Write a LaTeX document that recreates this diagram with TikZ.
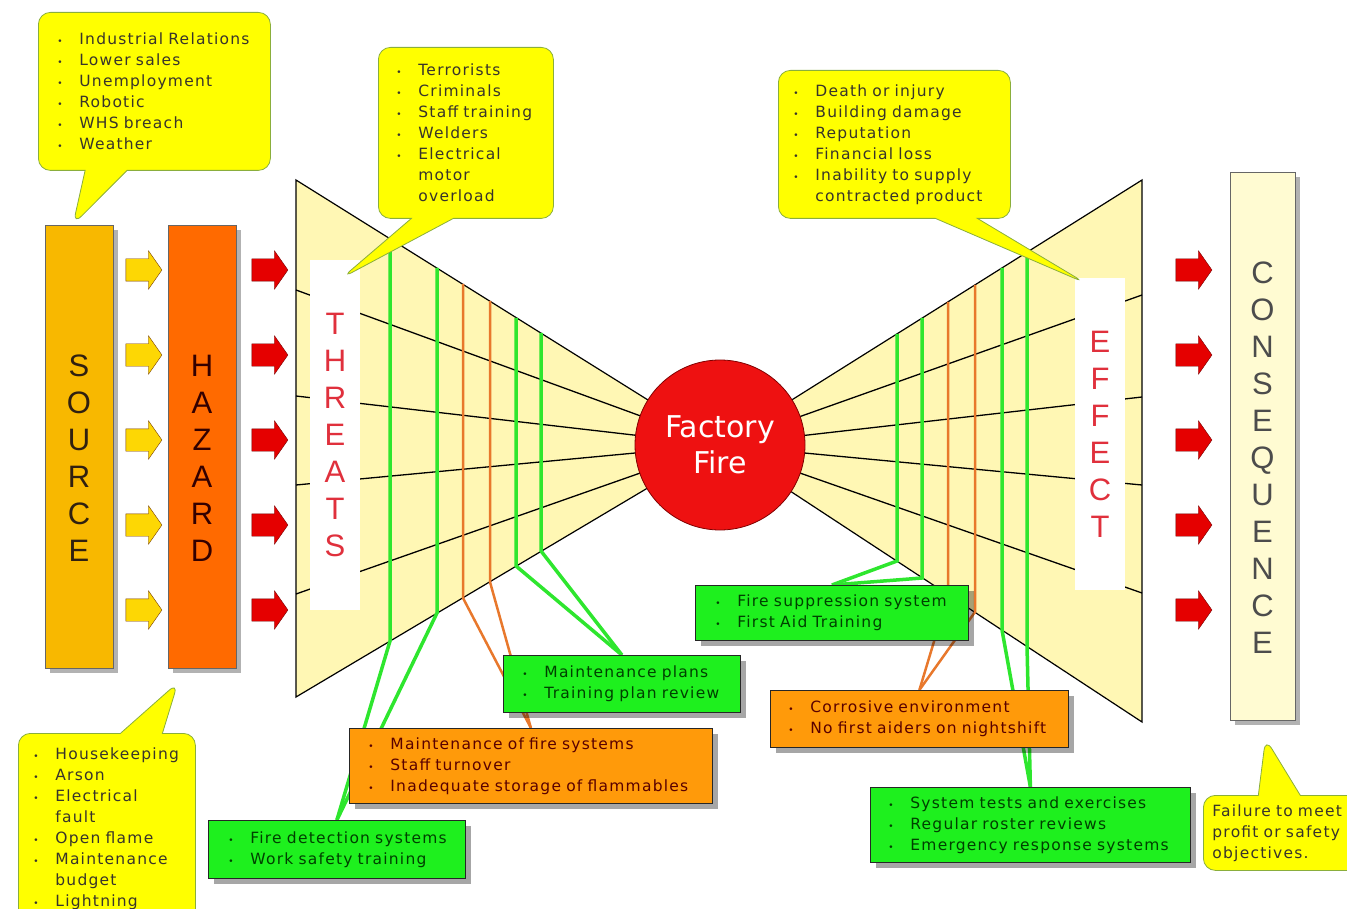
\documentclass[tikz,border=0pt]{standalone}
\usepackage{fontspec}
\setmainfont{DejaVu Sans}
\newfontfamily\notefont[LetterSpace=8]{DejaVu Sans}
\newfontfamily\bigfont{Liberation Sans}
\usetikzlibrary{shapes.arrows, shapes.callouts, shadows}
\pgfdeclarelayer{background}
\pgfsetlayers{background,main}

\definecolor{noteyellow}{HTML}{FFFF00}
\definecolor{noteedge}{HTML}{8AAE3C}
\definecolor{bargreen}{HTML}{2EE62E}
\definecolor{boxgreen}{HTML}{1EF01E}
\definecolor{barorange}{HTML}{E8782C}
\definecolor{boxorange}{HTML}{FF9A0A}
\definecolor{wingfill}{HTML}{FFF7B4}
\definecolor{threatred}{HTML}{E0303C}
\definecolor{firered}{HTML}{EE1111}
\definecolor{sourcefill}{HTML}{F8B800}
\definecolor{hazardfill}{HTML}{FF6A00}
\definecolor{consfill}{HTML}{FFFBD2}

\newcommand{\bul}{\makebox[22pt][l]{\fontsize{9}{9}\selectfont\textbullet}}
\newcommand{\cont}{\hspace*{22pt}}

\tikzset{
  smalltext/.style={font=\notefont\fontsize{15.5}{21}\selectfont},
  bubble/.style={rectangle callout, draw=noteedge, fill=noteyellow, thick, rounded corners=12pt,
    callout pointer width=42pt, smalltext, text=black!80!olive, align=left, anchor=north west},
  ctrlbox/.style={draw=black!85, thick, anchor=north west, align=left, smalltext,
    drop shadow={shadow xshift=6pt, shadow yshift=-6pt, opacity=0.35, fill=black}},
  gbox/.style={ctrlbox, fill=boxgreen, text=green!25!black},
  obox/.style={ctrlbox, fill=boxorange, text=red!35!black},
  gbar/.style={line width=3.5pt, bargreen},
  obar/.style={line width=2.5pt, barorange},
  wing/.style={fill=wingfill, draw=black, line width=1.2pt},
  fan/.style={draw=black, line width=1.3pt},
  band/.style={fill=white, minimum width=50pt, text=threatred, align=center,
    font=\bigfont\fontsize{31}{37}\selectfont},
  bigbox/.style={draw=black!60, thick, minimum width=68pt, minimum height=443pt,
    drop shadow={shadow xshift=5pt, shadow yshift=-5pt, opacity=0.3, fill=black}},
  bigletters/.style={align=center, font=\bigfont\fontsize{31}{37}\selectfont},
  yarrow/.style={single arrow, draw=black!55!orange, fill=yellow!75!orange, minimum height=36pt,
    minimum width=38pt, single arrow head extend=8pt, single arrow tip angle=110,
    inner xsep=0pt, inner ysep=11pt},
  rarrow/.style={yarrow, draw=red!45!black, fill=red!90!black},
}

\begin{document}
\begin{tikzpicture}[x=1pt, y=-1pt]
  \useasboundingbox (0,0) rectangle (1347,909);
  \clip (0,0) rectangle (1347,909);
  \coordinate (hub) at (720,445);

  % Source, hazard and consequence columns
  \node[bigbox, fill=sourcefill] (src) at (79,446.5) {};
  \node[bigletters, text=black!75!brown] at (79,458) {S\\O\\U\\R\\C\\E};
  \node[bigbox, fill=hazardfill] (haz) at (202,446.5) {};
  \node[bigletters, text=black!80!red] at (202,458) {H\\A\\Z\\A\\R\\D};
  \node[bigbox, fill=consfill, minimum width=65pt, minimum height=548pt] (cons) at (1262.5,446) {};
  \node[bigletters, text=black!70] at (1262.5,458) {C\\O\\N\\S\\E\\Q\\U\\E\\N\\C\\E};

  % Block arrows
  \foreach \y [count=\i] in {270,355,440,525,610} {
    \node[yarrow] (ya\i) at (140,\y) {};
    \node[rarrow] (ra\i) at (266,\y) {};
    \node[rarrow] (rb\i) at (1190,\y) {};
  }

  % Top event
  \node[circle, fill=firered, draw=red!50!black, thick, minimum size=170pt, text=white,
    font=\fontsize{30}{36}\selectfont, align=center] (fire) at (hub) {Factory\\Fire};

  % Controls and escalation factors
  \node[gbox, text width=217pt, inner xsep=20pt, minimum height=58pt] (detect) at (208,820)
    {\bul Fire detection systems\\\bul Work safety training};
  \node[obox, text width=325pt, inner xsep=19pt, minimum height=75pt] (maintsys) at (349,728)
    {\bul Maintenance of fire systems\\\bul Staff turnover\\\bul Inadequate storage of flammables};
  \node[gbox, text width=199pt, inner xsep=19pt, minimum height=57pt] (maintplan) at (503,655)
    {\bul Maintenance plans\\\bul Training plan review};
  \node[gbox, text width=233pt, inner xsep=20pt, minimum height=55pt] (suppress) at (695,585)
    {\bul Fire suppression system\\\bul First Aid Training};
  \node[obox, text width=262pt, inner xsep=18pt, minimum height=57pt] (corrode) at (770,690)
    {\bul Corrosive environment\\\bul No first aiders on nightshift};
  \node[gbox, text width=284pt, inner xsep=18pt, minimum height=75pt] (systest) at (870,787)
    {\bul System tests and exercises\\\bul Regular roster reviews\\\bul Emergency response systems};

  \begin{pgfonlayer}{background}
    % Wings
    \draw[wing] (296,180) -- (hub) -- (296,697) -- cycle;
    \draw[wing] (1142,180) -- (hub) -- (1142,722) -- cycle;
    \foreach \y in {290,396,485,594} \draw[fan] (296,\y) -- (hub);
    \foreach \y in {295,397,485,593} \draw[fan] (1142,\y) -- (hub);
    \node[band, minimum height=350pt] (threats) at (335,435) {T\\H\\R\\E\\A\\T\\S};
    \node[band, minimum height=312pt] (effects) at (1100,434) {E\\F\\F\\E\\C\\T};

    % Barriers (left)
    \draw[gbar] (390,239) -- (390,641) -- (detect.north);
    \draw[gbar] (437,268) -- (437,613) -- (detect.north);
    \draw[obar] (463,284) -- (463,598) -- (maintsys.north);
    \draw[obar] (490,301) -- (490,582) -- (maintsys.north);
    \draw[gbar] (516,318) -- (516,566) -- (maintplan.north);
    \draw[gbar] (541,333) -- (541,551) -- (maintplan.north);

    % Barriers (right)
    \draw[gbar] (897,334) -- (897,561) -- (suppress.north);
    \draw[gbar] (922,318) -- (922,578) -- (suppress.north);
    \draw[obar] (948,302) -- (948,595) -- (corrode.north);
    \draw[obar] (975,285) -- (975,612) -- (corrode.north);
    \draw[gbar] (1002,268) -- (1002,630) -- (systest.north);
    \draw[gbar] (1027,252) -- (1027,646) -- (systest.north);
  \end{pgfonlayer}

  % Call-outs
  \node[bubble, text width=194pt, inner xsep=19pt, minimum height=158pt,
    callout absolute pointer={([xshift=-6pt]src.north)}] (srccall) at (38,12)
    {\bul Industrial Relations\\\bul Lower sales\\\bul Unemployment\\\bul Robotic\\\bul WHS breach\\\bul Weather};
  \node[bubble, text width=139pt, inner xsep=18pt, minimum height=171pt,
    callout absolute pointer={([xshift=7pt,yshift=-18pt]threats.north)}] (threatcall) at (378,47)
    {\bul Terrorists\\\bul Criminals\\\bul Staff training\\\bul Welders\\\bul Electrical\\\cont motor\\\cont overload};
  \node[bubble, text width=202pt, inner xsep=15pt, minimum height=148pt,
    callout absolute pointer={([xshift=-15pt,yshift=-5pt]effects.north)}] (effectcall) at (778,70)
    {\bul Death or injury\\\bul Building damage\\\bul Reputation\\\bul Financial loss\\\bul Inability to supply\\\cont contracted product};
  \node[bubble, text width=147pt, inner xsep=15pt, minimum height=190pt,
    callout absolute pointer={([xshift=-24pt,yshift=-14pt]haz.south)}] (hazcall) at (18,733)
    {\bul Housekeeping\\\bul Arson\\\bul Electrical\\\cont fault\\\bul Open flame\\\bul Maintenance\\\cont budget\\\bul Lightning};
  \node[bubble, text width=152pt, inner xsep=9pt, minimum height=75pt,
    callout absolute pointer={([xshift=3pt,yshift=-18pt]cons.south)}] (conscall) at (1203,795)
    {Failure to meet\\profit or safety\\objectives.};
\end{tikzpicture}
\end{document}
